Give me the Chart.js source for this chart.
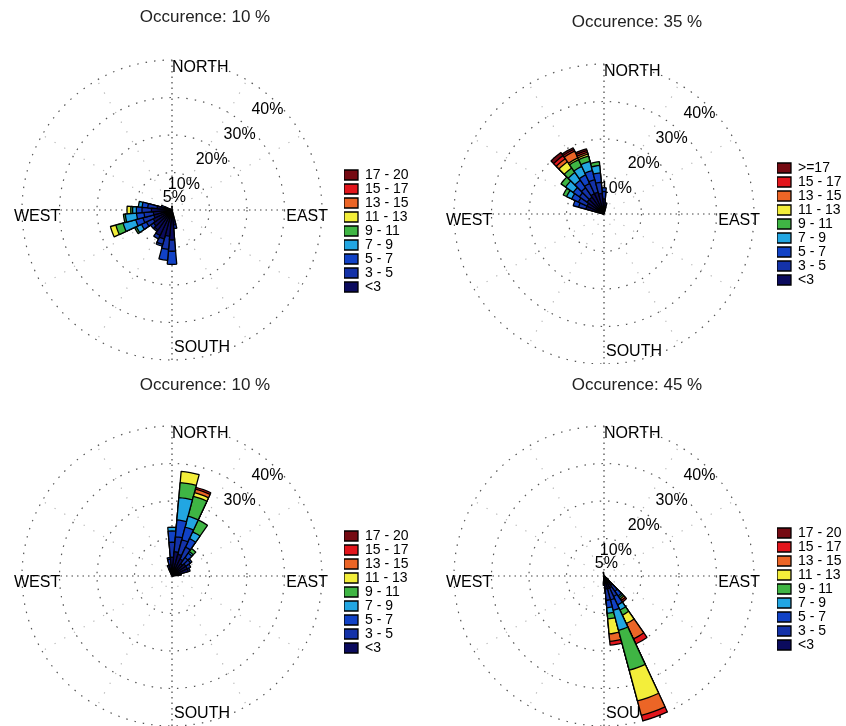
<!DOCTYPE html>
<html>
<head>
<meta charset="utf-8">
<script src="https://cdn.jsdelivr.net/npm/chart.js@4.4.0/dist/chart.umd.min.js"></script>
<style>
  html, body { margin: 0; padding: 0; background: #fff; }
  #wrap { position: relative; width: 846px; height: 726px; overflow: hidden; }
  canvas { position: absolute; }
</style>
</head>
<body>
<div id="wrap">
  <canvas id="rose1" width="424" height="364" style="left:0;top:0"></canvas>
  <canvas id="rose2" width="426" height="364" style="left:420px;top:0"></canvas>
  <canvas id="rose3" width="424" height="362" style="left:0;top:364px"></canvas>
  <canvas id="rose4" width="426" height="362" style="left:420px;top:364px"></canvas>
</div>
<script>
// 10 degree direction sectors, clockwise from north
const sectorDirs = [0, 10, 20, 30, 40, 50, 60, 70, 80, 90, 100, 110, 120, 130, 140, 150, 160, 170,
  180, 190, 200, 210, 220, 230, 240, 250, 260, 270, 280, 290, 300, 310, 320, 330, 340, 350];
const ringTicks = [0, 5, 10, 20, 30, 40];
const speedClasses = ['<3', '3 - 5', '5 - 7', '7 - 9', '9 - 11', '11 - 13', '13 - 15', '15 - 17', '17 - 20'];
const speedClasses2 = ['<3', '3 - 5', '5 - 7', '7 - 9', '9 - 11', '11 - 13', '13 - 15', '15 - 17', '>=17'];
const classColors = ['#0b0b5e', '#1432a8', '#1142c6', '#22a6e2', '#3fb544', '#f3ee3a', '#ec6526', '#e2151c', '#750a12'];

const titles = ['Occurence: 10 %', 'Occurence: 35 %', 'Occurence: 10 %', 'Occurence: 45 %'];

// frequency (%) per speed class, one row per direction listed in dirsN
const dirs1 = [0, 170, 180, 190, 200, 210, 220, 230, 240, 250, 260, 270, 280, 290];
const freq1 = [
  [1],
  [4, 1],
  [8, 3, 3.5],
  [7, 3.5, 3],
  [8, 1.5, 0.5],
  [7.5, 1],
  [6.5, 0.5],
  [6, 1],
  [5.5, 2, 1.5, 1.5, 0.5],
  [5, 3, 2, 3.5, 2, 1.5],
  [5, 2.5, 2, 3, 0.5],
  [5.5, 2.5, 1.5, 1, 0.5, 1],
  [4, 2.5, 1.5, 1],
  [2, 1]
];

const dirs2 = [290, 300, 310, 320, 330, 340, 350, 0, 10];
const freq2 = [
  [5, 2, 1.5],
  [5, 2.5, 2, 1.5, 1],
  [5.5, 2.5, 2, 2.5, 1.5],
  [5.5, 3, 2.5, 2.5, 1.5, 2, 1, 1, 1],
  [6, 3, 2.5, 2.5, 2, 0.5, 2, 0.5, 0.5],
  [6, 3.5, 2.5, 2.5, 1.5, 0.5, 0.5, 0.5, 0.5],
  [5.5, 3, 2.5, 2, 1],
  [4, 2, 1],
  [2, 1]
];

const dirs3 = [340, 350, 0, 10, 20, 30, 40, 50, 60, 70, 80];
const freq3 = [
  [2, 1],
  [3, 1.5, 0.5],
  [5, 4, 3, 1],
  [6.5, 4, 4.5, 6, 4, 3],
  [6, 4, 3.5, 3, 5.5, 1, 1, 0.5],
  [5, 3.5, 2.5, 2, 3.5],
  [4, 2, 1.5, 0.5, 1],
  [4.5, 1.5, 0.5],
  [4.5, 1],
  [4.5, 0.5],
  [2.5]
];

const dirs4 = [350, 130, 140, 150, 160, 170, 180];
const freq4 = [
  [1],
  [1.5],
  [3, 2, 1.5, 0.5, 0.5, 0, 0.5, 0.5],
  [3.5, 2.5, 2.5, 1.5, 1.5, 2.5, 4.5, 1.5],
  [3.5, 3.1, 2.9, 5.5, 11, 8.5, 4, 1.5],
  [3.5, 3, 2, 1.5, 1.5, 4, 2, 1],
  [2, 0.5]
];

const ringLabels1 = [5, 10, 20, 30, 40];
const ringLabels2 = [10, 20, 30, 40];
const ringLabels3 = [30, 40];
const ringLabels4 = [5, 10, 20, 30, 40];

const FONT = '"Liberation Sans", Arial, sans-serif';
const spokeDirs = [0, 30, 60, 90, 120, 150, 180, 210, 240, 270, 300, 330];
const axisDirs = [0, 90, 180, 270];

// stacked: each class drawn from the centre out to its cumulative total
function buildDatasets(dirs, freq, names) {
  return names.map((name, k) => ({
    label: name,
    data: sectorDirs.map(d => {
      const row = freq[dirs.indexOf(d)];
      if (!row || !(row[k] > 0)) return 0;
      return row.slice(0, k + 1).reduce((a, b) => a + b, 0);
    }),
    backgroundColor: classColors[k],
    borderColor: '#000',
    borderWidth: c => (c.raw > 0 ? 1.3 : 0)
  }));
}

const roseDecor = {
  id: 'roseDecor',
  beforeDatasetsDraw(chart, args, opts) {
    const s = chart.scales.r;
    const ctx = chart.ctx;
    const cx = s.xCenter, cy = s.yCenter, R = s.drawingArea;
    ctx.save();

    spokeDirs.forEach(a => {
      const t = a * Math.PI / 180;
      const axis = axisDirs.includes(a);
      ctx.beginPath();
      ctx.setLineDash(axis ? [1.5, 4] : [1.2, 10]);
      ctx.strokeStyle = axis ? '#444' : '#b5b5b5';
      ctx.lineWidth = 1.2;
      ctx.moveTo(cx, cy);
      ctx.lineTo(cx + R * Math.sin(t), cy - R * Math.cos(t));
      ctx.stroke();
    });
    ctx.setLineDash([]);

    ctx.fillStyle = '#000';
    ctx.font = '16px ' + FONT;
    ctx.textBaseline = 'middle';
    ctx.textAlign = 'left';
    ctx.fillText('NORTH', cx, cy - R + 8);
    ctx.fillText('SOUTH', cx + 2, cy + R - 12);
    ctx.fillText('WEST', cx - R - 8, cy + 7);
    ctx.textAlign = 'right';
    ctx.fillText('EAST', cx + R + 6, cy + 7);

    const t = 48 * Math.PI / 180;
    (opts.ringLabels || []).forEach(v => {
      const r = s.getDistanceFromCenterForValue(v);
      ctx.fillText(v + '%', cx + r * Math.sin(t), cy - r * Math.cos(t));
    });
    ctx.restore();
  }
};

function makeRose(id, title, dirs, freq, names, ringLabels, lay) {
  new Chart(document.getElementById(id), {
    type: 'polarArea',
    data: {
      labels: sectorDirs.map(d => d + '°'),
      datasets: buildDatasets(dirs, freq, names)
    },
    plugins: [roseDecor],
    options: {
      responsive: false,
      animation: false,
      layout: { padding: lay.padding },
      scales: {
        r: {
          min: 0,
          max: 40,
          startAngle: -5,
          afterBuildTicks: scale => { scale.ticks = ringTicks.map(v => ({ value: v })); },
          ticks: { display: false },
          grid: {
            circular: true,
            color: '#555',
            lineWidth: c => (c.tick && c.tick.value === 5 ? 0 : 1.2)
          },
          border: { dash: [1.5, 7] },
          angleLines: { display: false },
          pointLabels: { display: false }
        }
      },
      plugins: {
        title: {
          display: true,
          text: title,
          color: '#222',
          font: { family: FONT, size: 17, weight: 'normal' },
          padding: lay.titlePad
        },
        legend: {
          position: 'right',
          align: 'start',
          reverse: true,
          maxWidth: 66,
          title: { display: true, text: ' ', font: { size: 10 }, padding: { top: lay.legendTop, bottom: 0 } },
          labels: {
            boxWidth: 14,
            boxHeight: 10,
            padding: 0,
            color: '#000',
            font: { family: FONT, size: 14 },
            generateLabels: chart => chart.data.datasets.map((ds, i) => ({
              text: ds.label,
              fillStyle: ds.backgroundColor,
              strokeStyle: '#000',
              fontColor: '#000',
              lineWidth: 1.3,
              hidden: false,
              datasetIndex: i
            }))
          }
        },
        tooltip: { enabled: false },
        roseDecor: { ringLabels: ringLabels }
      }
    }
  });
}

makeRose('rose1', titles[0], dirs1, freq1, speedClasses, ringLabels1,
  { padding: { left: 0, right: 14, top: 0, bottom: 4 }, titlePad: { top: 7, bottom: 32.6 }, legendTop: 156 });
makeRose('rose2', titles[1], dirs2, freq2, speedClasses2, ringLabels2,
  { padding: { left: 11, right: 3, top: 0, bottom: 0 }, titlePad: { top: 12, bottom: 31.6 }, legendTop: 149 });
makeRose('rose3', titles[2], dirs3, freq3, speedClasses, ringLabels3,
  { padding: { left: 0, right: 14, top: 0, bottom: 0 }, titlePad: { top: 11, bottom: 30.6 }, legendTop: 153 });
makeRose('rose4', titles[3], dirs4, freq4, speedClasses, ringLabels4,
  { padding: { left: 11, right: 3, top: 0, bottom: 0 }, titlePad: { top: 11, bottom: 30.6 }, legendTop: 150 });
</script>
</body>
</html>
